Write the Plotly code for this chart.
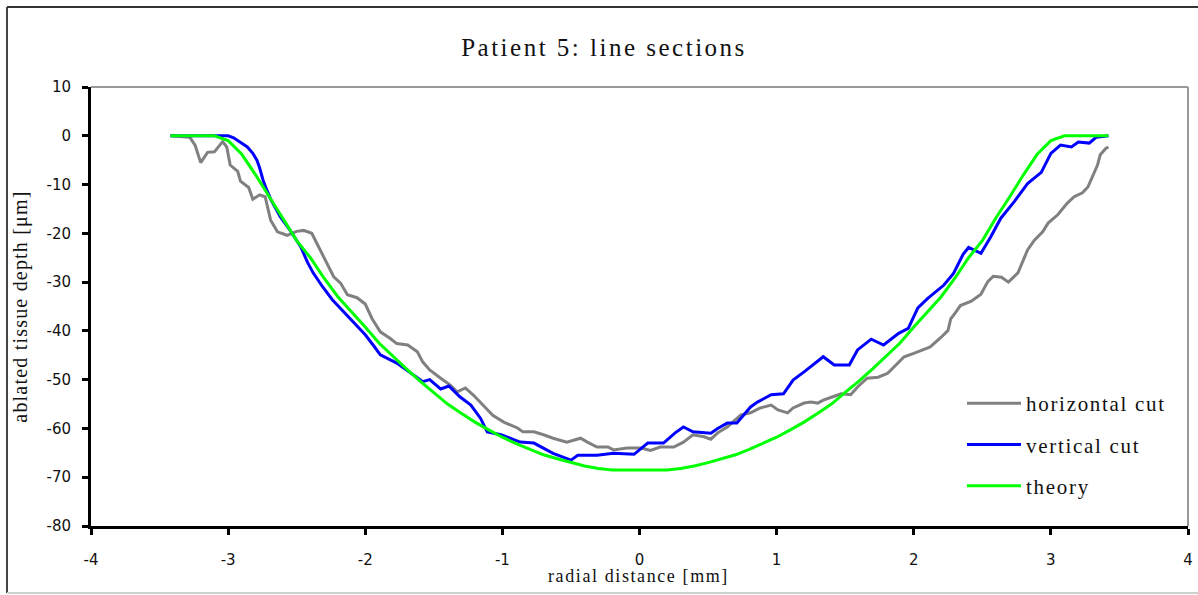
import plotly.graph_objects as go

# ---------------- data ----------------
horiz_x = [-3.42, -3.28, -3.24, -3.20, -3.15, -3.10, -3.04, -3.01, -2.985, -2.93, -2.91, -2.85, -2.82,
           -2.77, -2.73, -2.69, -2.64, -2.57, -2.50, -2.45, -2.39, -2.33, -2.28, -2.23, -2.18, -2.13,
           -2.06, -2.00, -1.95, -1.89, -1.82, -1.77, -1.69, -1.62, -1.58, -1.53, -1.45, -1.38, -1.33,
           -1.27, -1.21, -1.14, -1.07, -0.99, -0.89, -0.85, -0.77, -0.70, -0.63, -0.53, -0.43, -0.38,
           -0.31, -0.23, -0.19, -0.09, 0.01, 0.08, 0.15, 0.25, 0.32, 0.39, 0.47, 0.52, 0.57, 0.64,
           0.74, 0.81, 0.88, 0.96, 1.01, 1.08, 1.12, 1.20, 1.25, 1.30, 1.34, 1.41, 1.47, 1.54, 1.59,
           1.66, 1.74, 1.81, 1.88, 1.93, 2.00, 2.07, 2.12, 2.20, 2.25, 2.27, 2.29, 2.34, 2.42, 2.49,
           2.54, 2.58, 2.64, 2.69, 2.76, 2.83, 2.88, 2.94, 2.98, 3.05, 3.12, 3.17, 3.23, 3.27, 3.31,
           3.34, 3.36, 3.40, 3.42]
horiz_y = [0.0, -0.3, -2.0, -5.5, -3.4, -3.3, -1.2, -2.3, -6.0, -7.3, -9.3, -10.6, -13.0,
           -12.1, -12.5, -17.3, -19.7, -20.4, -19.6, -19.4, -20.0, -23.4, -26.1, -28.9, -30.2, -32.6,
           -33.2, -34.5, -37.5, -40.2, -41.5, -42.6, -42.9, -44.3, -46.4, -48.0, -49.7, -51.1, -52.5,
           -51.7, -53.2, -55.2, -57.3, -58.7, -59.9, -60.7, -60.7, -61.3, -62.0, -62.8, -62.0, -62.8,
           -63.8, -63.8, -64.4, -64.0, -64.0, -64.5, -63.8, -63.8, -62.8, -61.3, -61.7, -62.2, -60.9, -59.7,
           -57.2, -56.8, -55.8, -55.2, -56.2, -56.8, -55.8, -54.8, -54.6, -54.8, -54.2, -53.5, -52.9, -53.1, -51.5,
           -49.7, -49.5, -48.7, -46.6, -45.3, -44.6, -43.8, -43.3, -41.3, -39.9, -37.5, -36.8, -34.8, -33.9, -32.5,
           -29.9, -28.8, -29.0, -30.0, -28.1, -23.4, -21.4, -19.7, -17.9, -16.2, -13.8, -12.5, -11.7, -10.5, -8.0,
           -6.0, -3.9, -2.6, -2.3]

vert_x = [-3.42, -3.00, -2.96, -2.90, -2.86, -2.82, -2.79, -2.77, -2.745, -2.72, -2.69, -2.62, -2.55,
          -2.47, -2.42, -2.38, -2.31, -2.24, -2.15, -2.07, -2.00, -1.94, -1.89, -1.77, -1.65, -1.58,
          -1.53, -1.45, -1.39, -1.31, -1.23, -1.16, -1.11, -1.01, -0.87, -0.77, -0.63, -0.50, -0.45,
          -0.31, -0.19, -0.04, 0.06, 0.175, 0.26, 0.32, 0.39, 0.52, 0.57, 0.64, 0.71, 0.81, 0.86, 0.96,
          1.05, 1.12, 1.20, 1.34, 1.42, 1.53, 1.59, 1.69, 1.78, 1.89, 1.96, 2.03, 2.10, 2.22, 2.29, 2.36,
          2.40, 2.49, 2.56, 2.635, 2.73, 2.83, 2.93, 3.00, 3.07, 3.15, 3.20, 3.28, 3.33, 3.42]
vert_y = [0.0, 0.0, -0.4, -1.5, -2.3, -3.6, -5.0, -6.6, -9.1, -11.0, -13.0, -16.6, -19.3,
          -22.8, -26.0, -28.1, -31.0, -33.6, -36.3, -38.5, -40.8, -43.0, -44.9, -46.6, -49.0, -50.4,
          -50.0, -51.9, -51.3, -53.5, -55.2, -57.9, -60.7, -61.3, -62.8, -63.0, -65.1, -66.5, -65.5,
          -65.5, -65.1, -65.3, -63.0, -63.0, -60.9, -59.7, -60.7, -61.0, -60.0, -58.9, -58.9, -55.6, -54.6, -53.1,
          -52.9, -50.1, -48.4, -45.3, -47.0, -47.0, -43.9, -41.7, -42.9, -40.5, -39.5, -35.3, -33.4, -30.6, -28.2, -24.3,
          -22.9, -24.1, -20.8, -16.9, -13.6, -9.8, -7.5, -3.6, -1.9, -2.3, -1.3, -1.5, -0.3, 0.0]

theory_x = [-3.42, -3.1, -3.0, -2.9, -2.8, -2.7, -2.6, -2.5, -2.4, -2.3, -2.2, -2.1, -2.0, -1.9, -1.8,
            -1.7, -1.6, -1.5, -1.4, -1.3, -1.2, -1.1, -1.0, -0.9, -0.8, -0.7, -0.6, -0.5, -0.4, -0.3,
            -0.2, 0.0, 0.2, 0.3, 0.4, 0.5, 0.6, 0.7, 0.8, 0.9, 1.0, 1.1, 1.2, 1.3, 1.4, 1.5, 1.6, 1.7,
            1.8, 1.9, 2.0, 2.1, 2.2, 2.3, 2.4, 2.5, 2.6, 2.7, 2.8, 2.9, 3.0, 3.1, 3.42]
theory_y = [0.0, 0.0, -1.0, -3.8, -8.0, -12.5, -16.8, -21.5, -25.0, -29.2, -33.0, -36.0, -39.2, -42.5, -45.2,
            -47.8, -50.3, -52.6, -55.0, -56.9, -58.7, -60.3, -61.8, -63.1, -64.3, -65.4, -66.2, -67.0, -67.7, -68.2,
            -68.5, -68.5, -68.5, -68.2, -67.7, -67.0, -66.2, -65.4, -64.3, -63.1, -61.8, -60.3, -58.7, -56.9, -55.0, -52.6, -50.3, -47.8,
            -45.2, -42.5, -39.2, -36.0, -33.0, -29.2, -25.0, -21.5, -16.8, -12.5, -8.0, -3.8, -1.0, 0.0, 0.0]

series_names = ["horizontal cut", "vertical cut", "theory"]
series_colors = ["#808080", "#0000FF", "#00FF00"]
x_ticks = [-4, -3, -2, -1, 0, 1, 2, 3, 4]
y_ticks = [10, 0, -10, -20, -30, -40, -50, -60, -70, -80]

TITLE = "Patient 5: line sections"
X_TITLE = "radial distance [mm]"
Y_TITLE = "ablated tissue depth [\u03bcm]"

SERIF = "Liberation Serif, Times New Roman, serif"
SANS = "DejaVu Sans, Verdana, sans-serif"


def spaced(text, px):
    return '<span style="letter-spacing:%spx">%s</span>' % (px, text)


fig = go.Figure()
for i, (xs, ys) in enumerate([(horiz_x, horiz_y), (vert_x, vert_y), (theory_x, theory_y)]):
    fig.add_trace(go.Scatter(
        x=xs, y=ys, mode="lines", name=spaced(series_names[i], 1.7),
        legendgroup=series_names[i],
        line=dict(color=series_colors[i], width=3),
    ))

W, H = 1198, 595
L, R, T, B = 91, 10, 87, 69
pw, ph = W - L - R, H - T - B


def px_x(p):
    return (p - L) / pw


def px_y(p):
    return (H - B - p) / ph


fig.update_layout(
    width=W, height=H,
    margin=dict(l=L, r=R, t=T, b=B, pad=0, autoexpand=False),
    paper_bgcolor="white", plot_bgcolor="white",
    title=dict(text=spaced(TITLE, 2.5), x=604 / W, xanchor="center",
               y=1 - 47 / H, yanchor="middle",
               font=dict(family=SERIF, size=25, color="#111")),
    showlegend=True,
    legend=dict(x=px_x(962), xanchor="left", y=px_y(383), yanchor="top",
                font=dict(family=SERIF, size=21, color="#111"),
                bgcolor="rgba(0,0,0,0)", tracegroupgap=11, itemwidth=54,
                traceorder="grouped"),
    xaxis=dict(range=[-4, 4], tickvals=x_ticks, ticktext=[str(v) for v in x_ticks],
               showgrid=False, zeroline=False, showline=True, linewidth=3, linecolor="black",
               ticks="outside", ticklen=6, tickwidth=3, tickcolor="black", automargin=False,
               tickfont=dict(family=SANS, size=15, color="#111"), ticklabelstandoff=12),
    yaxis=dict(range=[-80, 10], tickvals=y_ticks, ticktext=[str(v) for v in y_ticks],
               showgrid=False, zeroline=False, showline=True, linewidth=3, linecolor="black",
               ticks="outside", ticklen=6, tickwidth=3, tickcolor="black", automargin=False,
               tickfont=dict(family=SANS, size=15, color="#111"), ticklabelstandoff=8,
               title=dict(text=spaced(Y_TITLE, 1.2), standoff=14,
                          font=dict(family=SERIF, size=20, color="#111"))),
    annotations=[
        dict(text=spaced(X_TITLE, 1.6), xref="paper", yref="paper", x=px_x(638), y=px_y(576),
             xanchor="center", yanchor="middle", showarrow=False,
             font=dict(family=SERIF, size=18, color="#111")),
    ],
    shapes=[
        # plot-area frame (top and right), light gray
        dict(type="line", xref="paper", yref="paper", x0=0, x1=1, y0=1, y1=1,
             line=dict(color="#999999", width=2), layer="below"),
        dict(type="line", xref="paper", yref="paper", x0=1, x1=1, y0=0, y1=1,
             line=dict(color="#999999", width=2), layer="below"),
        # outer chart border
        dict(type="line", xref="paper", yref="paper", x0=px_x(7), x1=px_x(1205), y0=px_y(7), y1=px_y(7),
             line=dict(color="#333333", width=2)),
        dict(type="line", xref="paper", yref="paper", x0=px_x(7), x1=px_x(7), y0=px_y(7), y1=px_y(593),
             line=dict(color="#444444", width=2)),
        dict(type="line", xref="paper", yref="paper", x0=px_x(7), x1=px_x(1205), y0=px_y(593), y1=px_y(593),
             line=dict(color="#d0d0d0", width=2)),
    ],
)

fig.write_html("out.html")
